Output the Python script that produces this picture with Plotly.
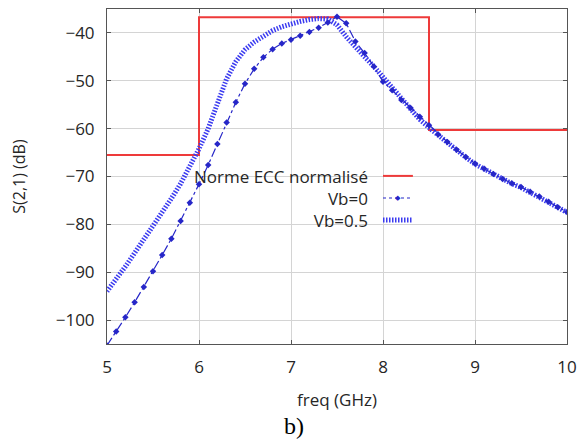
"""
S(2,1) response of the filter compared with the ECC mask.
"""

import plotly.graph_objects as go

# frequency grid (GHz)
freq = [5.0, 5.1, 5.2, 5.3, 5.4, 5.5, 5.6, 5.7, 5.8, 5.9,
        6.0, 6.1, 6.2, 6.3, 6.4, 6.5, 6.6, 6.7, 6.8, 6.9,
        7.0, 7.1, 7.2, 7.3, 7.4, 7.5, 7.6, 7.7, 7.8, 7.9,
        8.0, 8.1, 8.2, 8.3, 8.4, 8.5, 8.6, 8.7, 8.8, 8.9,
        9.0, 9.1, 9.2, 9.3, 9.4, 9.5, 9.6, 9.7, 9.8, 9.9, 10.0]

s21_vb0 = [-105.3, -102.4, -99.4, -96.3, -93.1, -89.8, -86.4, -83.0, -79.3, -75.5,
           -71.6, -67.6, -63.2, -58.7, -54.5, -50.6, -47.5, -45.1, -43.4, -42.2,
           -41.4, -40.6, -39.8, -38.9, -37.8, -36.6, -38.0, -41.8, -44.2, -47.0,
           -50.2, -52.0, -54.0, -55.7, -57.5, -59.3, -61.2, -62.8, -64.4, -65.9,
           -67.3, -68.4, -69.5, -70.5, -71.4, -72.2, -73.2, -74.2, -75.3, -76.4, -77.4]

s21_vb05 = [-94.0, -91.5, -88.8, -86.0, -83.2, -80.3, -77.4, -74.6, -71.5, -68.0,
            -64.2, -60.0, -54.5, -49.6, -46.0, -43.5, -41.9, -40.6, -39.5, -38.7,
            -38.1, -37.6, -37.2, -37.0, -37.1, -38.3, -40.8, -43.0, -45.0, -47.0,
            -49.3, -51.6, -53.8, -56.0, -58.1, -59.8, -61.4, -63.0, -64.5, -66.0,
            -67.4, -68.5, -69.6, -70.6, -71.5, -72.3, -73.3, -74.3, -75.4, -76.5, -77.5]

# ECC mask (step line)
mask_freq = [5.0, 6.0, 6.0, 8.5, 8.5, 10.0]
mask_level = [-65.5, -65.5, -36.7, -36.7, -60.3, -60.3]

legend_names = ["Norme ECC normalisé", "Vb=0", "Vb=0.5"]
y_ticks = [-100, -90, -80, -70, -60, -50, -40]
y_ticklabels = ["\u2212100", "\u221290", "\u221280", "\u221270", "\u221260", "\u221250", "\u221240"]

FONT = "Open Sans"
TXT = "#262626"
RED = "#ee3a3a"
BLUE_DARK = "#2626c8"
BLUE = "#3b3bf0"

fig = go.Figure()

fig.add_trace(go.Scatter(
    x=mask_freq, y=mask_level, mode="lines",
    line=dict(color=RED, width=2), name=legend_names[0],
))
fig.add_trace(go.Scatter(
    x=freq, y=s21_vb05, mode="lines",
    line=dict(color=BLUE, width=5, dash="1.5px,1.5px"), name=legend_names[2],
))
fig.add_trace(go.Scatter(
    x=freq, y=s21_vb0, mode="lines+markers",
    line=dict(color=BLUE_DARK, width=1.2, dash="dashdot"),
    marker=dict(color=BLUE_DARK, size=5, symbol="diamond"),
    name=legend_names[1],
))

# hand-made legend: labels (right aligned) on the left, line samples on the right
fig.add_annotation(
    x=0.572, y=0.4358, xref="paper", yref="paper", text="<br>".join(legend_names),
    showarrow=False, xanchor="right", yanchor="middle", align="right",
    font=dict(family=FONT, size=17, color=TXT),
)
rows = [0.5018, 0.4358, 0.3698]
samples = [
    dict(color=RED, width=2),
    dict(color=BLUE_DARK, width=1.2, dash="dot"),
    dict(color=BLUE, width=5, dash="1.5px,1.5px"),
]
for yy, ln in zip(rows, samples):
    fig.add_shape(
        type="line", xref="paper", yref="paper",
        x0=0.6, x1=0.665, y0=yy, y1=yy, line=ln,
    )
fig.add_annotation(
    x=0.6325, y=rows[1], xref="paper", yref="paper", text="\u25c6",
    showarrow=False, xanchor="center", yanchor="middle",
    font=dict(family="DejaVu Sans", size=7, color=BLUE_DARK),
)

# axis titles and caption
fig.add_annotation(
    x=0.5, y=-0.167, xref="paper", yref="paper", text="freq (GHz)",
    showarrow=False, xanchor="center", yanchor="middle",
    font=dict(family=FONT, size=17, color=TXT),
)
fig.add_annotation(
    x=-0.193, y=0.5, xref="paper", yref="paper", text="S(2,1) (dB)",
    showarrow=False, xanchor="center", yanchor="middle", textangle=-90,
    font=dict(family=FONT, size=16, color=TXT),
)
fig.add_annotation(
    x=0.4065, y=-0.245, xref="paper", yref="paper", text="b)",
    showarrow=False, xanchor="center", yanchor="middle",
    font=dict(family="Liberation Serif", size=24, color="#000"),
)

axis_common = dict(
    showline=True, linecolor="#555", linewidth=1, mirror="ticks",
    ticks="inside", ticklen=4, tickcolor="#555",
    showgrid=True, gridcolor="#d4d4d4", gridwidth=1,
    zeroline=False, ticklabelstandoff=8,
    tickfont=dict(family=FONT, size=17, color=TXT),
)

# the page adds an 8px body margin, so the figure is sized to fit the window
fig.update_layout(
    width=577, height=431,
    paper_bgcolor="white", plot_bgcolor="white",
    showlegend=False,
    margin=dict(l=99, r=18, t=1, b=95),
    xaxis=dict(range=[5, 10], dtick=1, **axis_common),
    yaxis=dict(range=[-105, -35], tickvals=y_ticks, ticktext=y_ticklabels, **axis_common),
)

fig.write_html("out.html")
